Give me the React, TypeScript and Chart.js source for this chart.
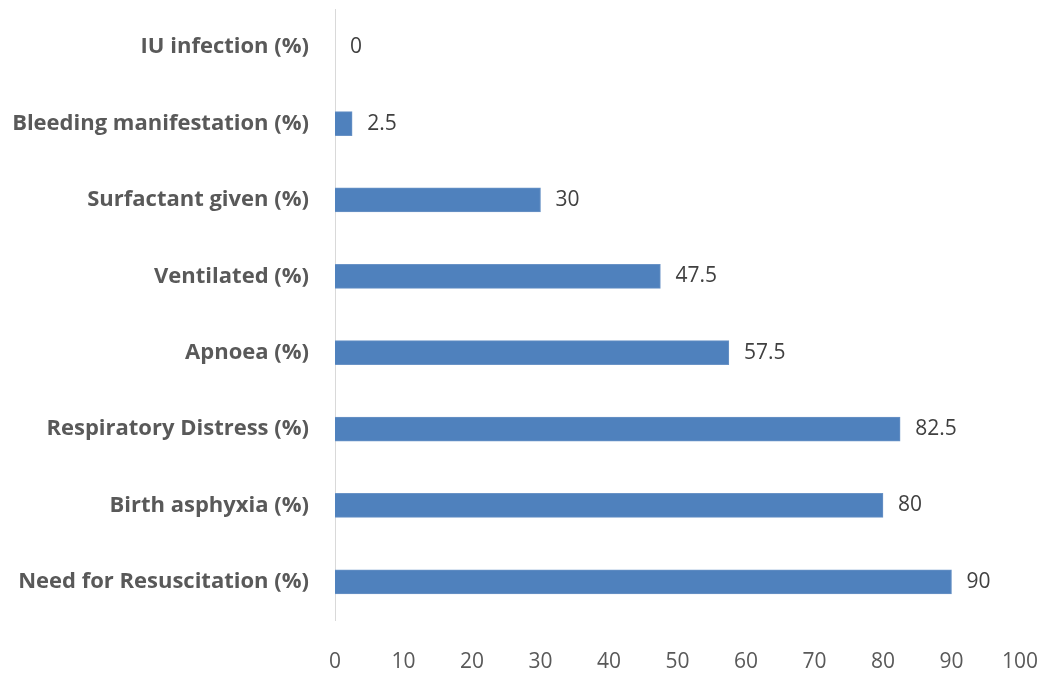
import React, { useEffect, useRef } from "react";
import { Chart, registerables } from "chart.js";

Chart.register(...registerables);

const categories = [
  "IU infection (%)",
  "Bleeding manifestation (%)",
  "Surfactant given (%)",
  "Ventilated (%)",
  "Apnoea (%)",
  "Respiratory Distress (%)",
  "Birth asphyxia (%)",
  "Need for Resuscitation (%)",
];
const values = [0, 2.5, 30, 47.5, 57.5, 82.5, 80, 90];
const xTicks = [0, 10, 20, 30, 40, 50, 60, 70, 80, 90, 100];

const valueLabels = {
  id: "valueLabels",
  afterDatasetsDraw(chart: any) {
    const { ctx } = chart;
    const meta = chart.getDatasetMeta(0);
    ctx.save();
    ctx.font = "21px 'Open Sans'";
    ctx.fillStyle = "#404040";
    ctx.textAlign = "left";
    ctx.textBaseline = "middle";
    meta.data.forEach((bar: any, i: number) => {
      ctx.fillText(String(values[i]), bar.x + 15, bar.y);
    });
    ctx.restore();
  },
};

export default function App() {
  const ref = useRef<HTMLCanvasElement>(null);
  useEffect(() => {
    document.body.style.margin = "0";
    const chart = new Chart(ref.current!, {
      type: "bar",
      data: {
        labels: categories,
        datasets: [
          {
            data: values,
            backgroundColor: "#4F81BD",
            borderColor: "#6A93C6",
            borderWidth: 1,
            barThickness: 24,
          },
        ],
      },
      options: {
        indexAxis: "y",
        animation: false,
        responsive: false,
        maintainAspectRatio: false,
        layout: { padding: { top: 9, right: 23, bottom: 0, left: 0 } },
        plugins: { legend: { display: false }, tooltip: { enabled: false } },
        scales: {
          x: {
            min: 0,
            max: 100,
            afterBuildTicks: (s: any) => {
              s.ticks = xTicks.map((v) => ({ value: v }));
            },
            grid: { display: false, drawTicks: false },
            border: { display: false },
            ticks: {
              padding: 29,
              color: "#595959",
              font: { family: "'Open Sans'", size: 21 },
              maxRotation: 0,
            },
            afterFit: (s: any) => {
              s.height = 54;
              s.paddingLeft = 0;
              s.paddingRight = 0;
            },
          },
          y: {
            grid: { display: false, drawTicks: false },
            border: { display: true, color: "#D9D9D9", width: 1 },
            ticks: {
              padding: 26,
              color: "#595959",
              font: { family: "'Open Sans'", size: 22, weight: "bold" },
            },
            afterFit: (s: any) => {
              s.width = 335;
              s.paddingTop = 0;
              s.paddingBottom = 0;
            },
          },
        },
      },
      plugins: [valueLabels],
    });
    return () => chart.destroy();
  }, []);
  return (
    <div style={{ width: 1043, height: 674 }}>
      <canvas ref={ref} width={1043} height={674} style={{ display: "block" }} />
    </div>
  );
}
